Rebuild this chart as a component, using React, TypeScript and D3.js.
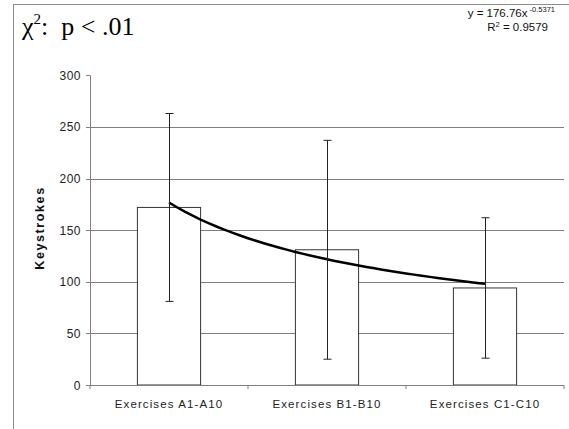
import React from "react";
import * as d3 from "d3";

const categories = ["Exercises A1-A10", "Exercises B1-B10", "Exercises C1-C10"];
const means = [172, 131, 94];
const errors = [91, 106, 68];
const yTicks = [0, 50, 100, 150, 200, 250, 300];
const trendCoef = 176.76;
const trendExp = -0.5371;
const trendSamples = d3.range(1, 3.0001, 0.05);

export default function App() {
  const W = 569, H = 429;
  const left = 90, right = 564, top = 75.3, bottom = 385;
  const x = d3.scaleBand<string>().domain(categories).range([left, right]).paddingInner(0.6).paddingOuter(0.3);
  const xc = d3.scalePoint<string>().domain(categories).range([left, right]).padding(0.5);
  const y = d3.scaleLinear().domain([0, 300]).range([bottom, top]);
  const xNum = d3.scaleLinear().domain([1, 3]).range([xc(categories[0])!, xc(categories[2])!]);
  const line = d3.line<number>().x(t => xNum(t)).y(t => y(trendCoef * Math.pow(t, trendExp))).curve(d3.curveLinear);
  const step = (right - left) / categories.length;
  const font = "Liberation Sans, Arial, sans-serif";
  return (
    <svg width={W} height={H} style={{ position: "absolute", left: 0, top: 0 }}>
      <rect x={0} y={0} width={W} height={H} fill="#fff" />
      <line x1={13} y1={4.5} x2={W} y2={4.5} stroke="#8c8c8c" />
      <line x1={13.5} y1={4} x2={13.5} y2={H} stroke="#8c8c8c" />
      <text x={22} y={35} fontFamily="Liberation Serif, Times New Roman, serif" fontSize={26} fill="#000" style={{ whiteSpace: "pre" }}>
        χ<tspan dy={-11} fontSize={15}>2</tspan><tspan dy={11}>{":  p < .01"}</tspan>
      </text>
      <text x={555} y={17} textAnchor="end" fontFamily={font} fontSize={11.5} fill="#111">
        y = 176.76x<tspan dy={-5} fontSize={7.5}> -0.5371</tspan>
      </text>
      <text x={548} y={31} textAnchor="end" fontFamily={font} fontSize={11.5} fill="#111">
        R<tspan dy={-4} fontSize={7.5}>2</tspan><tspan dy={4}> = 0.9579</tspan>
      </text>
      {yTicks.filter(t => t > 0 && t < 300).map(t => (
        <line key={"g" + t} x1={left} x2={right} y1={Math.round(y(t)) + 0.5} y2={Math.round(y(t)) + 0.5} stroke="#808080" />
      ))}
      {categories.map((c, i) => (
        <g key={c}>
          <rect x={x(c)!} y={y(means[i])} width={x.bandwidth()} height={bottom - y(means[i])} fill="#fff" stroke="#333" strokeWidth={1} />
        </g>
      ))}
      <line x1={left + 0.5} x2={left + 0.5} y1={top} y2={bottom} stroke="#808080" />
      <line x1={left} x2={right} y1={bottom + 0.5} y2={bottom + 0.5} stroke="#808080" />
      {yTicks.map(t => (
        <g key={"t" + t}>
          <line x1={left - 4} x2={left} y1={Math.round(y(t)) + 0.5} y2={Math.round(y(t)) + 0.5} stroke="#808080" />
          <text x={left - 9} y={y(t) + 4.5} textAnchor="end" fontFamily={font} fontSize={12} letterSpacing={0.5} fill="#222">{t}</text>
        </g>
      ))}
      {d3.range(categories.length + 1).map(i => (
        <line key={"xt" + i} x1={left + i * step} x2={left + i * step} y1={bottom} y2={bottom + 4} stroke="#808080" />
      ))}
      {categories.map((c, i) => (
        <text key={"l" + c} x={xc(c)!} y={408} textAnchor="middle" fontFamily={font} fontSize={11.5} letterSpacing={1.1} fill="#222">{c}</text>
      ))}
      <text transform={`translate(44,228) rotate(-90)`} textAnchor="middle" fontFamily={font} fontSize={12.5} letterSpacing={1.6} fontWeight="bold" fill="#111">Keystrokes</text>
      <path d={line(trendSamples)!} fill="none" stroke="#000" strokeWidth={2.5} />
      {categories.map((c, i) => {
        const cx = Math.round(xc(c)!) + 0.5;
        const hi = y(means[i] + errors[i]);
        const lo = y(means[i] - errors[i]);
        return (
          <g key={"e" + c} stroke="#222" strokeWidth={1}>
            <line x1={cx} x2={cx} y1={hi} y2={lo} />
            <line x1={cx - 4} x2={cx + 4} y1={hi} y2={hi} />
            <line x1={cx - 4} x2={cx + 4} y1={lo} y2={lo} />
          </g>
        );
      })}
    </svg>
  );
}
